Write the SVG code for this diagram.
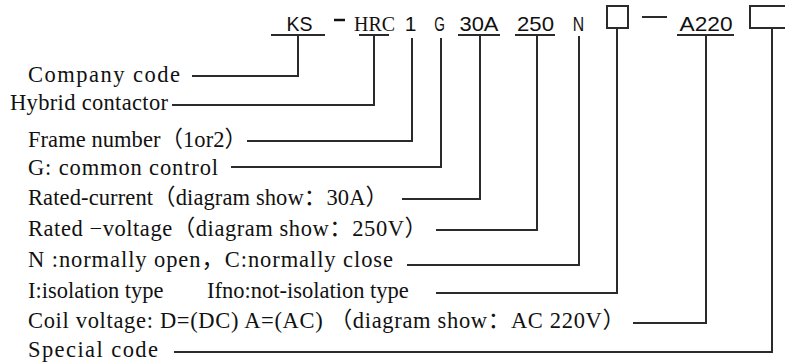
<svg xmlns="http://www.w3.org/2000/svg" width="785" height="362" viewBox="0 0 785 362">
<style>
.d{font-family:"Liberation Serif","Noto Sans CJK SC",serif;font-size:22.5px;fill:#111}
.c{font-family:"Liberation Sans","DejaVu Sans",sans-serif;font-size:21px;fill:#111;text-anchor:middle}
.s{font-family:"Liberation Serif",serif;font-size:22px;fill:#111}
.ln{fill:none;stroke:#2b2b2b;stroke-width:2;stroke-linecap:square;stroke-linejoin:miter}
</style>
<rect width="785" height="362" fill="#fff"/>
<g id="code">
<text class="c" x="299.5" y="31" textLength="26" lengthAdjust="spacingAndGlyphs">KS</text>
<line x1="334" y1="20" x2="345" y2="20" stroke="#111" stroke-width="2.5"/>
<text class="s" x="354" y="31" textLength="41" lengthAdjust="spacingAndGlyphs">HRC</text>
<text class="c" x="410.5" y="31">1</text>
<text class="c" transform="translate(439.5,31) scale(0.65,1)">G</text>
<text class="c" x="479" y="31" textLength="39" lengthAdjust="spacingAndGlyphs">30A</text>
<text class="c" x="535.5" y="31" textLength="37" lengthAdjust="spacingAndGlyphs">250</text>
<text class="c" transform="translate(578.5,31) scale(0.75,1)">N</text>
<rect x="607" y="6" width="21" height="22" class="ln"/>
<line x1="642" y1="17" x2="667" y2="17" stroke="#2b2b2b" stroke-width="2"/>
<text class="c" x="706" y="31" textLength="53" lengthAdjust="spacingAndGlyphs">A220</text>
<path class="ln" d="M790,6 H750 V28 H790"/>
</g>
<g id="labels">
<text id="company" class="d" x="28" y="82" textLength="152">Company code</text>
<text id="hybrid" class="d" x="10" y="110" textLength="158">Hybrid contactor</text>
<text id="frame" class="d" x="28" y="147" textLength="219">Frame number（1or2）</text>
<text id="gcontrol" class="d" x="28" y="175" textLength="190">G: common control</text>
<text id="current" class="d" x="28" y="205" textLength="360">Rated-current（diagram show：30A）</text>
<text id="voltage" class="d" x="28" y="236" textLength="399">Rated −voltage（diagram show：250V）</text>
<text id="contact" class="d" x="28" y="267" textLength="365">N :normally open，C:normally close</text>
<text id="isolation" class="d" y="298"><tspan x="28">I:isolation type</tspan><tspan x="207">Ifno:not-isolation type</tspan></text>
<text id="coil" class="d" x="28" y="328" textLength="597">Coil voltage: D=(DC) A=(AC) （diagram show：AC 220V）</text>
<text id="special" class="d" x="28" y="357" textLength="130">Special code</text>
</g>
<g id="connectors" class="ln">
<path d="M272,35 H324 M298,35 V76 H193"/>
<path d="M360,35 H388 M374,35 V105 H173"/>
<path d="M412,39 V141 H248"/>
<path d="M441,39 V167 H232"/>
<path d="M459,35 H499 M480,35 V199 H403"/>
<path d="M516,35 H554 M537,35 V230 H437"/>
<path d="M579,37 V265 H408"/>
<path d="M617,28 V293 H437"/>
<path d="M678,35 H733 M706,35 V323 H634"/>
<path d="M772,28 V352 H175"/>
</g>
</svg>
